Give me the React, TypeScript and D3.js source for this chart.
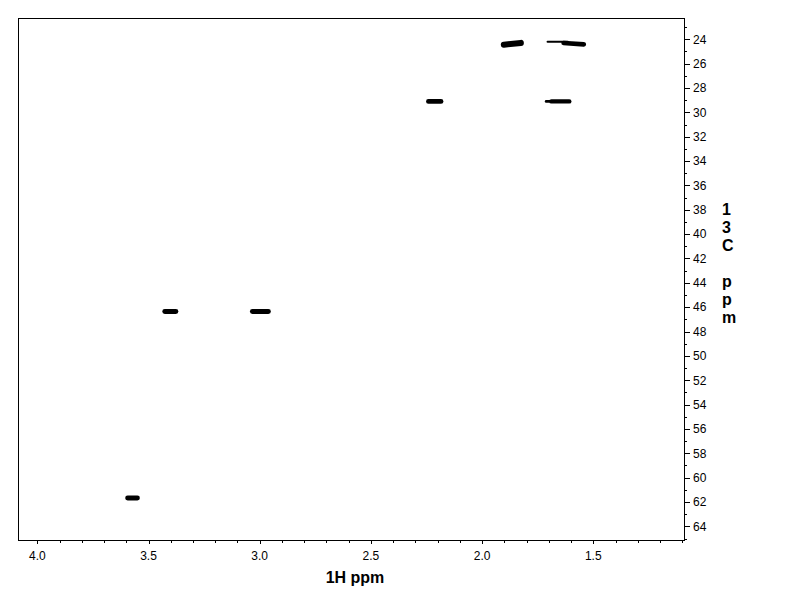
import React from "react";
import * as d3 from "d3";

// Peak components: 1H shift, 13C shift, half-width (1H ppm), half-height (13C ppm)
const peakH = [3.572, 3.402, 2.997, 2.213, 1.648, 1.700, 1.864, 1.660, 1.588];
const peakC = [61.67, 46.35, 46.35, 29.10, 29.10, 29.10, 24.37, 24.20, 24.36];
const peakHW = [0.033, 0.036, 0.047, 0.039, 0.050, 0.018, 0.052, 0.050, 0.056];
const peakCW = [0.20, 0.20, 0.20, 0.19, 0.18, 0.11, 0.25, 0.08, 0.19];
const peakTilt = [0, 0, 0, 0, 0, 0, -6, 0, 4];

const xTickMajor = [4.0, 3.5, 3.0, 2.5, 2.0, 1.5];
const yTickMajor = [24, 26, 28, 30, 32, 34, 36, 38, 40, 42, 44, 46, 48, 50, 52, 54, 56, 58, 60, 62, 64];
const yTitle = ["1", "3", "C", "", "p", "p", "m"];

const W = 792;
const H = 612;
const left = 18;
const right = 684;
const top = 18;
const bottom = 540;

export default function App() {
  const x = d3.scaleLinear().domain([4.087, 1.092]).range([left, right]);
  const y = d3.scaleLinear().domain([22.25, 65.12]).range([top, bottom]);

  const xMinor = d3.range(11, 41).map((v) => v / 10);
  const yMinor = d3.range(23, 66);
  const font = "'Liberation Sans', Arial, sans-serif";

  return (
    <svg
      width={W}
      height={H}
      style={{ position: "absolute", left: 0, top: 0, background: "#fff" }}
    >
      <rect x={0} y={0} width={W} height={H} fill="#fff" />
      <rect
        x={left}
        y={top}
        width={right - left}
        height={bottom - top}
        fill="none"
        stroke="#000"
        strokeWidth={1}
        shapeRendering="crispEdges"
      />
      {/* x ticks */}
      {xMinor.map((v) => {
        const major = xTickMajor.some((m) => Math.abs(m - v) < 1e-6);
        return (
          <line
            key={"xt" + v}
            x1={Math.round(x(v)) + 0.5}
            x2={Math.round(x(v)) + 0.5}
            y1={bottom}
            y2={bottom + (major ? 4 : 3)}
            stroke="#000"
            shapeRendering="crispEdges"
          />
        );
      })}
      {xTickMajor.map((v) => (
        <text
          key={"xl" + v}
          x={x(v)}
          y={559.5}
          textAnchor="middle"
          fontFamily={font}
          fontSize={12}
          fill="#000"
        >
          {v.toFixed(1)}
        </text>
      ))}
      {/* y ticks */}
      {yMinor.map((v) => {
        const major = v % 2 === 0;
        return (
          <line
            key={"yt" + v}
            x1={right}
            x2={right + (major ? 6 : 3)}
            y1={Math.round(y(v)) + 0.5}
            y2={Math.round(y(v)) + 0.5}
            stroke="#000"
            shapeRendering="crispEdges"
          />
        );
      })}
      {yTickMajor.map((v) => (
        <text
          key={"yl" + v}
          x={693}
          y={y(v) + 4.3}
          textAnchor="start"
          fontFamily={font}
          fontSize={12}
          fill="#000"
        >
          {v}
        </text>
      ))}
      {/* axis titles */}
      <text
        x={355}
        y={583}
        textAnchor="middle"
        fontFamily={font}
        fontSize={16}
        fontWeight="bold"
        fill="#000"
      >
        1H ppm
      </text>
      {yTitle.map((c, i) => (
        <text
          key={"ytt" + i}
          x={722}
          y={215 + i * 18}
          fontFamily={font}
          fontSize={16}
          fontWeight="bold"
          fill="#000"
        >
          {c}
        </text>
      ))}
      {/* peaks (contour blobs) */}
      {peakH.map((h, i) => {
        const cx = x(h);
        const cy = y(peakC[i]);
        const rw = Math.abs(x(h + peakHW[i]) - cx);
        const rh = Math.abs(y(peakC[i] + peakCW[i]) - cy);
        return (
          <rect
            key={"pk" + i}
            x={cx - rw}
            y={cy - rh}
            width={2 * rw}
            height={2 * rh}
            rx={rh}
            ry={rh}
            fill="#000"
            transform={`rotate(${peakTilt[i]} ${cx} ${cy})`}
          />
        );
      })}
    </svg>
  );
}
